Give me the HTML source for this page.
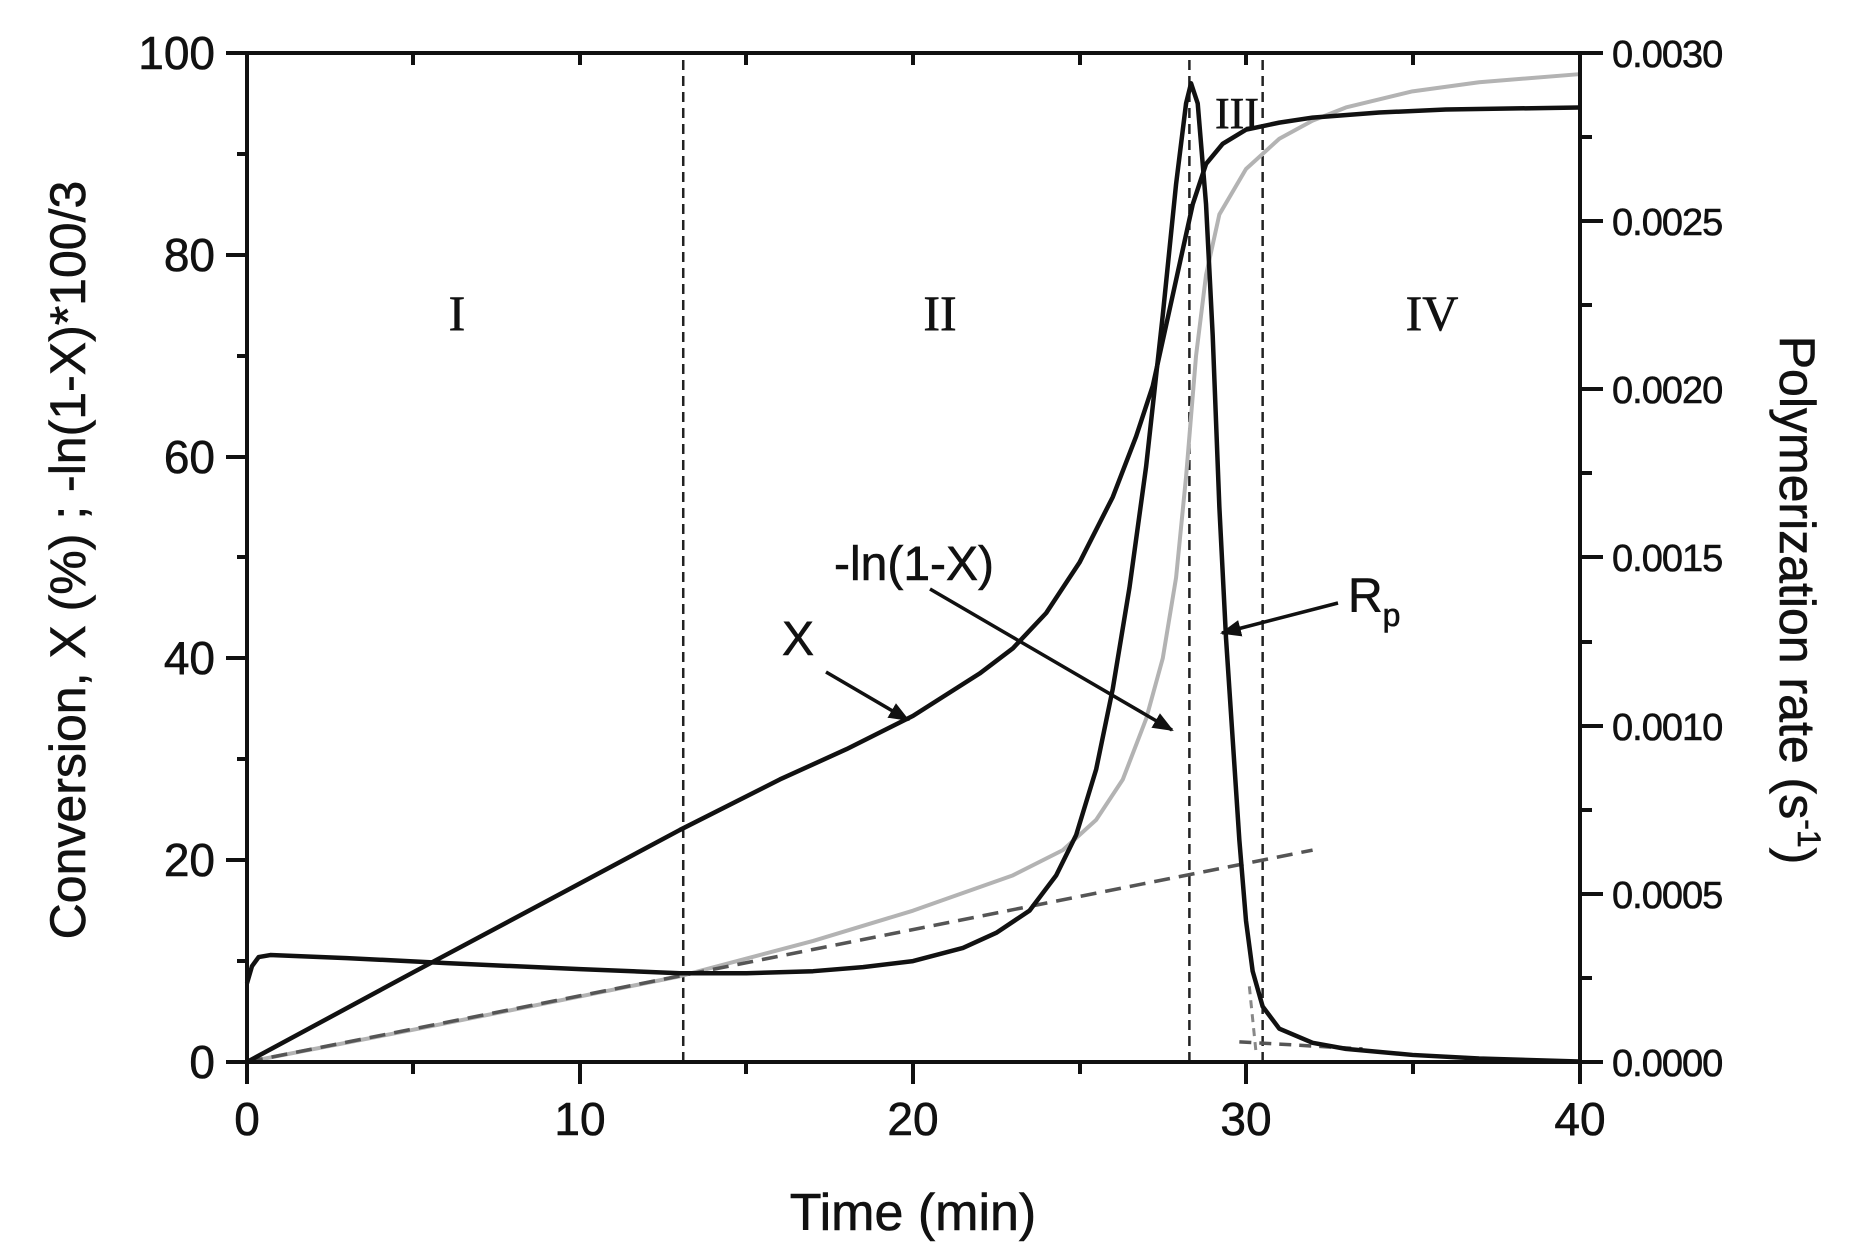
<!DOCTYPE html>
<html><head><meta charset="utf-8"><style>
html,body{margin:0;padding:0;background:#fff}
svg{display:block}
text{font-family:"Liberation Sans",Arial,sans-serif;fill:#111;stroke:#111;stroke-width:0.6}
.s{font-family:"Liberation Serif",serif}
</style></head><body>
<svg width="1851" height="1260" viewBox="0 0 1851 1260" xmlns="http://www.w3.org/2000/svg">
<defs>
<marker id="ah" viewBox="0 0 10 10" refX="9" refY="5" markerWidth="6" markerHeight="6" orient="auto"><path d="M0,1 L10,5 L0,9 z" fill="#111"/></marker>
</defs>
<g transform="translate(247,1062) scale(33.3,-10.09)" fill="none" stroke-linejoin="round">
<line x1="13.1" y1="0" x2="13.1" y2="100" stroke="#222" stroke-width="2.5" vector-effect="non-scaling-stroke" stroke-dasharray="10 6"/>
<line x1="28.3" y1="0" x2="28.3" y2="100" stroke="#222" stroke-width="2.5" vector-effect="non-scaling-stroke" stroke-dasharray="10 6"/>
<line x1="30.5" y1="0" x2="30.5" y2="100" stroke="#222" stroke-width="2.5" vector-effect="non-scaling-stroke" stroke-dasharray="10 6"/>
<polyline stroke="#b3b3b3" stroke-width="4" vector-effect="non-scaling-stroke" points="0,0 5,3.2 10,6.5 13,8.5 17,12 20,15 23,18.5 24.5,21 25.5,24 26.3,28 27,34 27.5,40 27.9,48 28.2,58 28.5,70 28.8,78 29.2,84 30,88.5 31,91.5 32,93.3 33,94.6 35,96.2 37,97.1 40,97.9"/>
<line x1="0" y1="0" x2="32" y2="21" stroke="#555" stroke-width="3.5" stroke-dasharray="16 9" vector-effect="non-scaling-stroke"/>
<line x1="29.8" y1="2" x2="33.5" y2="1.3" stroke="#555" stroke-width="3.5" stroke-dasharray="12 8" vector-effect="non-scaling-stroke"/>
<line x1="30.1" y1="7.5" x2="30.3" y2="1" stroke="#888" stroke-width="3" stroke-dasharray="8 6" vector-effect="non-scaling-stroke"/>
<polyline stroke="#111" stroke-width="4.5" vector-effect="non-scaling-stroke" points="0,0 5,8.9 10,17.7 13,23 16,28 18,31 20,34.3 22,38.5 23,41 24,44.5 25,49.5 26,56 26.7,62 27.2,67 27.6,73 28,79 28.4,85 28.8,89 29.3,91 30,92.4 31,93.1 32,93.6 34,94.1 36,94.4 40,94.6"/>
<polyline stroke="#111" stroke-width="4.5" vector-effect="non-scaling-stroke" points="0,7.8 0.15,9.5 0.35,10.4 0.7,10.6 3,10.3 6,9.8 10,9.2 13,8.8 15,8.8 17,9 18.5,9.4 20,10 21.5,11.3 22.5,12.8 23.5,15 24.3,18.5 24.9,22.5 25.5,29 26,37 26.5,47 27,59 27.5,74 27.9,87 28.2,95 28.35,97 28.55,95 28.8,85 29,72 29.2,55 29.4,42 29.6,32 29.8,22 30,14 30.2,9 30.5,5.5 31,3.3 32,1.9 33,1.3 35,0.7 37,0.35 40,0.05"/>
</g>
<g stroke="#111" stroke-width="3.5" fill="none">
<line x1="826" y1="672" x2="908" y2="720" marker-end="url(#ah)"/>
<line x1="930" y1="589" x2="1172" y2="730" marker-end="url(#ah)"/>
<line x1="1338" y1="603" x2="1222" y2="633" marker-end="url(#ah)"/>
</g>
<rect x="247" y="53" width="1333" height="1009" stroke="#111" stroke-width="4" fill="none"/>
<g stroke="#111" stroke-width="4">
<line x1="247" y1="1062" x2="247" y2="1084"/><line x1="580" y1="1062" x2="580" y2="1084"/><line x1="913" y1="1062" x2="913" y2="1084"/><line x1="1246" y1="1062" x2="1246" y2="1084"/><line x1="1580" y1="1062" x2="1580" y2="1084"/>
<line x1="413" y1="1062" x2="413" y2="1074"/><line x1="746" y1="1062" x2="746" y2="1074"/><line x1="1080" y1="1062" x2="1080" y2="1074"/><line x1="1413" y1="1062" x2="1413" y2="1074"/>
<line x1="413" y1="53" x2="413" y2="65"/><line x1="580" y1="53" x2="580" y2="65"/><line x1="746" y1="53" x2="746" y2="65"/><line x1="913" y1="53" x2="913" y2="65"/><line x1="1080" y1="53" x2="1080" y2="65"/><line x1="1246" y1="53" x2="1246" y2="65"/><line x1="1413" y1="53" x2="1413" y2="65"/>
<line x1="226" y1="1062" x2="247" y2="1062"/><line x1="226" y1="860" x2="247" y2="860"/><line x1="226" y1="658" x2="247" y2="658"/><line x1="226" y1="457" x2="247" y2="457"/><line x1="226" y1="255" x2="247" y2="255"/><line x1="226" y1="53" x2="247" y2="53"/>
<line x1="237" y1="961" x2="247" y2="961"/><line x1="237" y1="759" x2="247" y2="759"/><line x1="237" y1="557" x2="247" y2="557"/><line x1="237" y1="356" x2="247" y2="356"/><line x1="237" y1="154" x2="247" y2="154"/>
<line x1="1580" y1="1062" x2="1603" y2="1062"/><line x1="1580" y1="894" x2="1603" y2="894"/><line x1="1580" y1="726" x2="1603" y2="726"/><line x1="1580" y1="557" x2="1603" y2="557"/><line x1="1580" y1="389" x2="1603" y2="389"/><line x1="1580" y1="221" x2="1603" y2="221"/><line x1="1580" y1="53" x2="1603" y2="53"/>
<line x1="1580" y1="978" x2="1592" y2="978"/><line x1="1580" y1="810" x2="1592" y2="810"/><line x1="1580" y1="642" x2="1592" y2="642"/><line x1="1580" y1="473" x2="1592" y2="473"/><line x1="1580" y1="305" x2="1592" y2="305"/><line x1="1580" y1="137" x2="1592" y2="137"/>
</g>
<g font-size="46" text-anchor="end">
<text x="215" y="1078">0</text><text x="215" y="876">20</text><text x="215" y="674">40</text><text x="215" y="473">60</text><text x="215" y="271">80</text><text x="215" y="69">100</text>
</g>
<g font-size="46" text-anchor="middle">
<text x="247" y="1135">0</text><text x="580" y="1135">10</text><text x="913" y="1135">20</text><text x="1246" y="1135">30</text><text x="1580" y="1135">40</text>
</g>
<g font-size="38" text-anchor="start" letter-spacing="-1">
<text x="1612" y="1076">0.0000</text><text x="1612" y="908">0.0005</text><text x="1612" y="740">0.0010</text><text x="1612" y="571">0.0015</text><text x="1612" y="403">0.0020</text><text x="1612" y="235">0.0025</text><text x="1612" y="67">0.0030</text>
</g>
<text x="913" y="1230" font-size="52" text-anchor="middle">Time (min)</text>
<text transform="translate(85,560) rotate(-90)" font-size="50" text-anchor="middle">Conversion, X (%) ; -ln(1-X)*100/3</text>
<text transform="translate(1780,600) rotate(90)" font-size="50" text-anchor="middle">Polymerization rate (s<tspan font-size="32" dy="-18">-1</tspan><tspan dy="18">)</tspan></text>
<g font-size="50" text-anchor="middle">
<text class="s" x="457" y="330">I</text>
<text class="s" x="940" y="330">II</text>
<text class="s" x="1432" y="330">IV</text>
<text class="s" x="1237" y="128" font-size="44">III</text>
</g>
<g font-size="48">
<text x="782" y="655">X</text>
<text x="834" y="580">-ln(1-X)</text>
<text x="1348" y="612">R<tspan font-size="32" dy="14">p</tspan></text>
</g>
</svg>
</body></html>
